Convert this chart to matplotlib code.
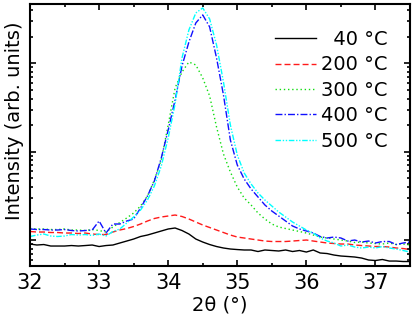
import numpy as np
import matplotlib
matplotlib.use('Agg')
import matplotlib.pyplot as plt

# 2theta grid (deg) and intensities (arb. units)
dois_theta = np.round(np.arange(32.0, 37.55, 0.1), 1)

i_40 = [90.1, 87.8, 88.9, 85.5, 85.5, 85.5, 86.6, 85.5, 86.6, 87.8,
        84.4, 86.6, 87.8, 92.5, 97.4, 102.6, 109.6, 113.9, 120.0, 126.5,
        133.3, 136.8, 128.1, 116.9, 102.6, 94.9, 88.9, 84.4, 81.2, 79.1,
        78.0, 77.1, 77.1, 74.1, 77.1, 76.1, 75.1, 77.1, 74.1, 76.1,
        73.1, 77.1, 71.3, 70.3, 67.6, 65.9, 65.1, 64.2, 62.5, 59.4,
        58.6, 60.2, 57.8, 57.8, 57.1, 57.1]

i_200 = [124.9, 123.2, 123.2, 121.6, 121.6, 120.0, 120.0, 118.5, 120.0, 116.9,
         115.4, 115.4, 123.2, 129.8, 134.9, 142.2, 151.8, 164.1, 175.2, 182.2,
         187.0, 191.9, 184.6, 172.9, 159.9, 147.9, 138.6, 129.8, 121.6, 113.9,
         108.1, 105.4, 102.6, 100.0, 97.4, 96.2, 96.2, 96.2, 97.4, 98.7,
         100.0, 97.4, 94.9, 92.5, 91.3, 90.1, 90.1, 87.8, 86.6, 85.5,
         84.4, 84.4, 83.3, 81.2, 80.1, 78.0]

i_300 = [134.9, 133.3, 133.3, 131.5, 131.5, 133.3, 129.8, 129.8, 128.1, 131.5,
         128.1, 123.2, 140.4, 157.9, 177.5, 202.2, 242.7, 315.0, 478.1, 805.4,
         2006, 5265, 7991, 10370, 9592, 6833, 4274, 1904, 941.9, 589.1,
         398.3, 299.0, 249.2, 202.2, 172.9, 151.8, 140.4, 134.9, 129.8, 124.9,
         120.0, 113.9, 108.1, 105.4, 102.6, 100.0, 97.4, 93.7, 94.9, 92.5,
         91.3, 90.1, 92.5, 88.9, 90.1, 87.8]

i_400 = [133.3, 131.5, 131.5, 129.8, 129.8, 131.5, 128.1, 126.5, 128.1, 129.8,
         164.1, 120.0, 151.8, 151.8, 164.1, 172.9, 230.3, 315.0, 465.8, 848.6,
         1761, 3851, 9346, 17470, 28680, 35330, 25840, 11515, 4386, 1357,
         707.2, 490.7, 378.2, 306.9, 249.2, 213.0, 187.0, 164.1, 144.1, 133.3,
         126.5, 120.0, 109.6, 105.4, 108.1, 105.4, 97.4, 100.0, 94.9, 97.4,
         92.5, 96.2, 96.2, 88.9, 92.5, 94.9]

i_500 = [109.6, 113.9, 116.9, 111.0, 109.6, 111.0, 115.4, 113.9, 115.4, 112.5,
         116.9, 111.0, 124.9, 133.3, 155.8, 182.2, 218.7, 283.8, 408.8, 688.7,
         1429, 3469, 11515, 23890, 37220, 42410, 31830, 16160, 6157, 2006,
         917.6, 574.0, 430.7, 340.7, 283.8, 242.7, 207.6, 182.2, 159.9, 144.1,
         129.8, 120.0, 105.4, 97.4, 92.5, 85.5, 87.8, 83.3, 81.2, 83.3,
         81.2, 84.4, 81.2, 79.1, 76.1, 73.1]

rotulos = ['\u200740 °C', '200 °C', '300 °C', '400 °C', '500 °C']
series = [i_40, i_200, i_300, i_400, i_500]
cores = ['black', '#ff1a1a', '#11dd11', '#1010ff', '#00ffff']
estilos = ['-', (0, (4.3, 2.2)), (0, (1, 2)), (0, (5, 1.5, 1, 1.5)),
           (0, (4, 1.2, 1, 1.2, 1, 1.2))]

plt.rcParams['font.family'] = 'DejaVu Sans'

fig = plt.figure(figsize=(4.15, 3.18), dpi=100)
ax = fig.add_axes([30 / 415, 1 - 266 / 318, 380 / 415, 262 / 318])

for y, rotulo, cor, estilo in zip(series, rotulos, cores, estilos):
    ax.plot(dois_theta, y, color=cor, linestyle=estilo, linewidth=1.0, label=rotulo)

ax.set_yscale('log')
ax.set_xlim(32, 37.5)
ax.set_ylim(50.8, 47000)
ax.set_xticks(np.arange(32, 38, 1))
ax.set_xticks(np.arange(32, 37.6, 0.5), minor=True)
ax.yaxis.set_major_formatter(matplotlib.ticker.NullFormatter())
ax.yaxis.set_minor_formatter(matplotlib.ticker.NullFormatter())
ax.tick_params(which='both', direction='in', top=True, right=True, width=1.2)
ax.tick_params(which='major', length=4.5, labelsize=15, pad=5)
ax.tick_params(which='minor', length=2.5)
for s in ax.spines.values():
    s.set_linewidth(1.5)

ax.set_xlabel('2θ (°)', fontsize=14, labelpad=2)
ax.set_ylabel('Intensity (arb. units)', fontsize=14)
ax.yaxis.set_label_coords(-0.016, 0.555)

leg = ax.legend(loc='upper right', bbox_to_anchor=(388 / 415, 1 - 30 / 318),
                bbox_transform=fig.transFigure, frameon=False, fontsize=14,
                handlelength=2.1, handletextpad=0.3, labelspacing=0.33,
                borderpad=0, borderaxespad=0)

fig.savefig('out.png', dpi=100)
